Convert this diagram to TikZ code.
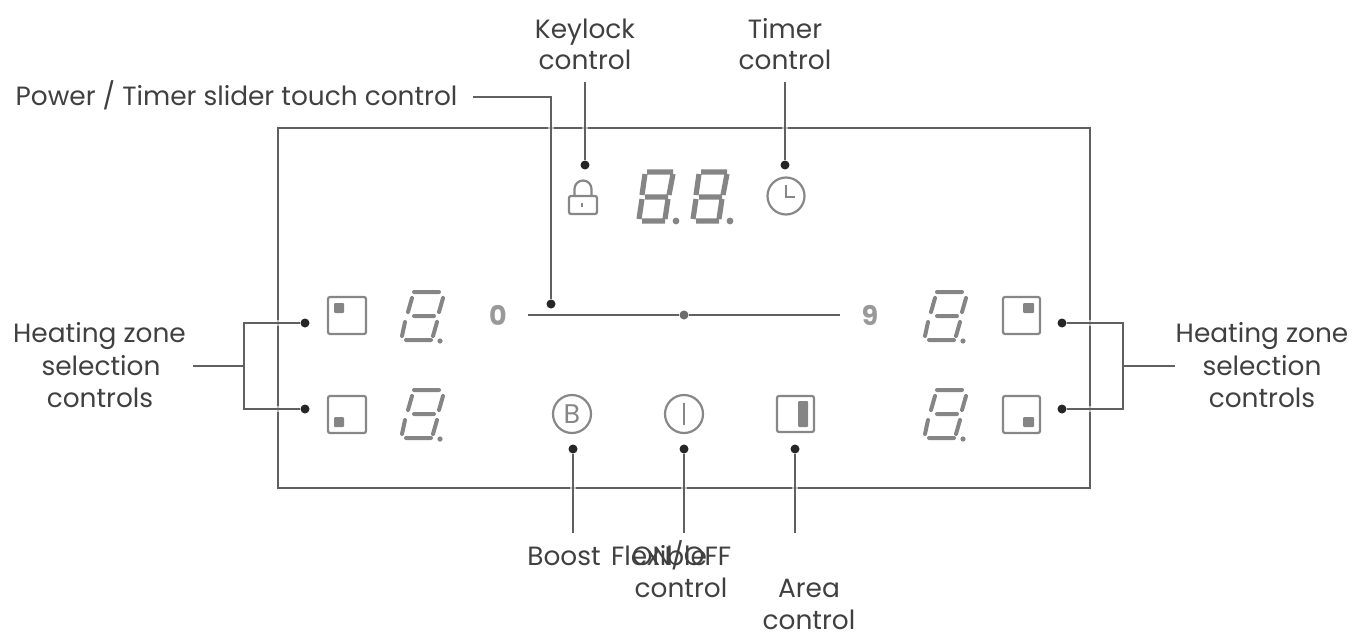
\documentclass[tikz,border=0pt]{standalone}
\usepackage{fontspec}
\setmainfont{Poppins}
\definecolor{ink}{HTML}{404040}
\definecolor{icon}{HTML}{878787}
\definecolor{seg}{HTML}{858585}
\definecolor{wire}{HTML}{606060}
\tikzset{
  x=0.5pt,y=-0.5pt,
  lbl/.style={font=\fontsize{13.2}{15}\selectfont,text=ink,inner sep=0pt,anchor=base},
  numlbl/.style={font=\fontsize{13.5}{15}\bfseries\selectfont,text=icon!85,inner sep=0pt,anchor=center},
  dotnode/.style={circle,fill=black!85,inner sep=0pt,minimum size=4.5pt},
  wireline/.style={draw=wire,line width=0.7pt},
  frameline/.style={draw=wire,line width=0.55pt},
  iconline/.style={draw=icon,line width=1.1pt},
  iconfill/.style={fill=seg,rounded corners=0.5pt},
  smallseg/.style={draw=seg,line width=2pt,line cap=round},
  bigseg/.style={draw=seg,line width=2.6pt},
  pics/smalldigit/.style={code={
    \draw[smallseg] (13,2)--(38,2) (13,26)--(33,26) (5,50)--(30,50)
      (11,8)--(7,22) (42,8)--(38,22) (4,32)--(1,46) (36,32)--(32,46);
    \fill[seg] (39,51) circle (1.3pt);
  }},
  pics/bigdigit/.style={code={
    \draw[bigseg] (9,2)--(35,2) (7,27)--(30,27) (4,51)--(27,51)
      (7,4)--(4,25) (35,4)--(31,25) (4,29)--(1,49) (30,29)--(27,49);
    \fill[seg] (38,51) circle (1.7pt);
  }}
}
\begin{document}
\begin{tikzpicture}
\useasboundingbox (0,0) rectangle (1353,637);
% frame
\node[frameline,rectangle,inner sep=0pt,minimum width=406pt,minimum height=180pt] (panel) at (684,308) {};
% faint breaks in the frame where connectors cross it
\foreach \cx/\cy in {573/488,684/488,795/488} \fill[white,opacity=.6] (\cx-3,\cy-2) rectangle (\cx+3,\cy+2);
\foreach \cx/\cy in {278/323,278/409,1090/323,1090/409} \fill[white,opacity=.6] (\cx-2,\cy-3) rectangle (\cx+2,\cy+3);
\foreach \cx/\cy in {551/128,585/128,785/128} \fill[white,opacity=.6] (\cx-3,\cy-2) rectangle (\cx+3,\cy+2);
% labels
\node[lbl] (lpower) at (236.5,105) {Power / Timer slider touch control};
\node[lbl] (lkey1) at (585,38) {Keylock};
\node[lbl] (lkey2) at (585,69) {control};
\node[lbl] (ltim1) at (785,38) {Timer};
\node[lbl] (ltim2) at (785,69) {control};
\node[lbl] (lhl1) at (99.5,342) {Heating zone};
\node[lbl] (lhl2) at (101,375) {selection};
\node[lbl] (lhl3) at (100,407) {controls};
\node[lbl] (lhr1) at (1262,342) {Heating zone};
\node[lbl] (lhr2) at (1262,375) {selection};
\node[lbl] (lhr3) at (1262,407) {controls};
\node[lbl] (lboost) at (564,565) {Boost};
\node[lbl] (lflex) at (659,565) {Flexible};
\node[lbl] (lon) at (681.5,565) {ON/OFF};
\node[lbl] (lon2) at (681,597) {control};
\node[lbl] (larea1) at (809,597) {Area};
\node[lbl] (larea2) at (809,629) {control};
% numbers
\node[numlbl] (n0) at (498,315) {0};
\node[numlbl] (n9) at (870,315) {9};
% digits
\pic at (401,290) {smalldigit};
\pic at (401,388) {smalldigit};
\pic at (924,290) {smalldigit};
\pic at (924,388) {smalldigit};
\pic at (638,170) {bigdigit};
\pic at (692,170) {bigdigit};
% zone squares
\draw[iconline,rounded corners=1pt] (328,297) rectangle (366,334);
\fill[iconfill] (334,303) rectangle (344,313);
\draw[iconline,rounded corners=1pt] (328,396) rectangle (366,433);
\fill[iconfill] (334,417) rectangle (344,427);
\draw[iconline,rounded corners=1pt] (1003,297) rectangle (1040,334);
\fill[iconfill] (1023,303) rectangle (1034,313);
\draw[iconline,rounded corners=1pt] (1003,396) rectangle (1040,433);
\fill[iconfill] (1023,417) rectangle (1034,427);
% area icon
\draw[iconline,rounded corners=1pt] (777,396) rectangle (814,432);
\fill[iconfill] (798,401) rectangle (808,427);
% lock
\draw[iconline,rounded corners=1pt] (569,196) rectangle (597,214);
\draw[iconline] (574.5,196) -- (574.5,189) arc[start angle=180,end angle=0,x radius=8.5,y radius=-8.5] -- (591.5,196);
\draw[iconline] (582,203) -- (582,207);
% clock
\draw[iconline] (786,196) circle (9.25pt);
\draw[iconline] (786,185) -- (786,197) -- (795,197);
% boost
\draw[iconline] (572,414) circle (9.5pt);
\node[inner sep=0pt,text=icon,font=\fontsize{13.5}{15}\selectfont] (bglyph) at (572,414) {B};
% on/off
\draw[iconline] (684,414) circle (9.5pt);
\draw[iconline] (684,403) -- (684,425);
% dots
\node[dotnode] (dkey) at (585,165) {};
\node[dotnode] (dtim) at (785,165) {};
\node[dotnode] (dpow) at (551,304) {};
\node[dotnode,fill=icon!80!black] (dsl) at (684,315) {};
\node[dotnode] (dlt) at (305,323) {};
\node[dotnode] (dlb) at (305,409) {};
\node[dotnode] (drt) at (1062,323) {};
\node[dotnode] (drb) at (1062,409) {};
\node[dotnode] (dboost) at (573,449) {};
\node[dotnode] (don) at (684,449) {};
\node[dotnode] (darea) at (795,449) {};
% connector ends
\coordinate (ckey) at (585,82);
\coordinate (ctim) at (785,82);
\coordinate (cpow) at (473,97);
\coordinate (cbend) at (551,97);
\coordinate (sl0) at (528,315);
\coordinate (sl1) at (840,315);
\coordinate (bl) at (244,366);
\coordinate (blst) at (193,366);
\coordinate (br) at (1123,366);
\coordinate (brst) at (1175,366);
\coordinate (eboost) at (573,533);
\coordinate (eon) at (684,533);
\coordinate (earea) at (795,533);
% connectors
\draw[wireline] (ckey) -- (dkey);
\draw[wireline] (ctim) -- (dtim);
\draw[wireline] (cpow) -- (cbend) -- (dpow);
\draw[wireline] (sl0) -- (dsl) -- (sl1);
\draw[wireline] (dlt) -| (bl) (dlb) -| (bl) (bl) -- (blst);
\draw[wireline] (drt) -| (br) (drb) -| (br) (br) -- (brst);
\draw[wireline] (dboost) -- (eboost);
\draw[wireline] (don) -- (eon);
\draw[wireline] (darea) -- (earea);
\end{tikzpicture}
\end{document}
